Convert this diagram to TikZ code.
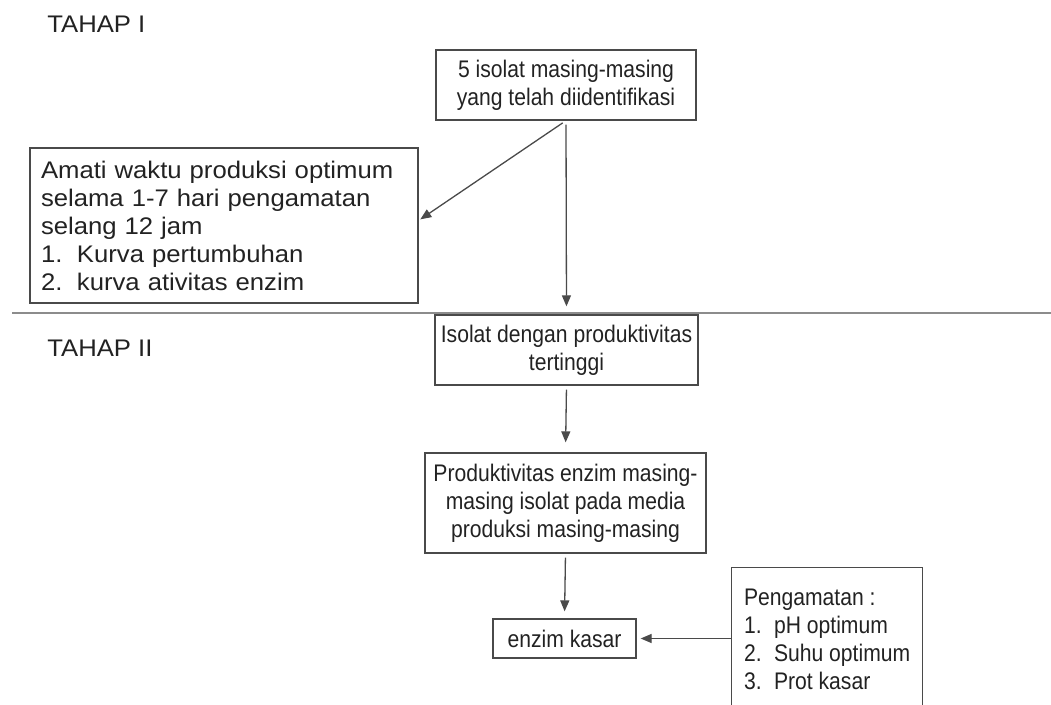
\documentclass[tikz,border=0pt]{standalone}
\usepackage{fontspec}
\setmainfont{Liberation Sans}[FakeStretch=0.88]
\newfontfamily\lebar{Liberation Sans}[FakeStretch=1.07]
\usetikzlibrary{arrows.meta}
\definecolor{garis}{HTML}{4a4a4a}
\definecolor{teks}{HTML}{222222}
\begin{document}
\begin{tikzpicture}[
    x=0.5pt, y=-0.5pt,
    font=\fontsize{12}{14}\selectfont,
    text=teks,
    % Kotak proses (teks di tengah)
    kotak/.style={
        draw=garis,
        line width=0.65pt,
        inner sep=2pt,
        align=center,
        minimum height=35pt
    },
    % Kotak keterangan (teks rata kiri)
    kotakket/.style={
        draw=garis,
        line width=0.65pt,
        inner xsep=5.5pt,
        align=left
    },
    label/.style={anchor=west, inner sep=0, font=\lebar\fontsize{12}{14}\selectfont},
    panah/.style={draw=garis, line width=0.65pt, -{Triangle[length=5.5pt,width=4.5pt]}, shorten <=2pt}
]
\clip (0,0) rectangle (1051,705);

% ---- TAHAP I ----
\node[label] (tahap1) at (47,24) {TAHAP I};

\node[kotak, minimum width=130pt] (isolat5) at (566,85)
    {5 isolat masing-masing\\yang telah diidentifikasi};

\node[kotakket, minimum width=194pt, minimum height=77.5pt, text width=183pt,
      font=\lebar\fontsize{12}{14}\selectfont] (amati) at (224,225.5)
    {Amati waktu produksi optimum\\selama 1-7 hari pengamatan\\selang 12 jam\\
     \makebox[18pt][l]{1.}Kurva pertumbuhan\\\makebox[18pt][l]{2.}kurva ativitas enzim};

\draw[panah, shorten >=1pt] (isolat5.south) -- ([yshift=2.5pt]amati.east);

% ---- BATAS TAHAP ----
\draw[draw=gray!90, line width=1pt] (12,313) -- (1051,313);

% ---- TAHAP II ----
\node[label] (tahap2) at (47,348) {TAHAP II};

\node[kotak, minimum width=131.5pt] (tertinggi) at (566.5,350)
    {Isolat dengan produktivitas\\tertinggi};

\draw[panah, shorten >=4pt] (isolat5.south) -- (tertinggi.north);

\node[kotak, minimum width=140.5pt, minimum height=50pt] (produksi) at (565.5,503)
    {Produktivitas enzim masing-\\masing isolat pada media\\produksi masing-masing};

\draw[panah, shorten >=5pt] (tertinggi.south) -- (produksi.north);

\node[kotak, minimum width=71.5pt, minimum height=19.5pt] (kasar) at (564.5,638.5) {enzim kasar};

\draw[panah, shorten >=3.5pt] (produksi.south) -- (kasar.north);

\node[kotakket, anchor=north west, minimum width=95.5pt, minimum height=72pt] (amatan) at (731,567)
    {Pengamatan :\\\makebox[15pt][l]{1.}pH optimum\\\makebox[15pt][l]{2.}Suhu optimum\\\makebox[15pt][l]{3.}Prot kasar};

\draw[panah, shorten <=0pt, shorten >=2pt] (amatan.west |- kasar.east) -- (kasar.east);

\end{tikzpicture}
\end{document}
